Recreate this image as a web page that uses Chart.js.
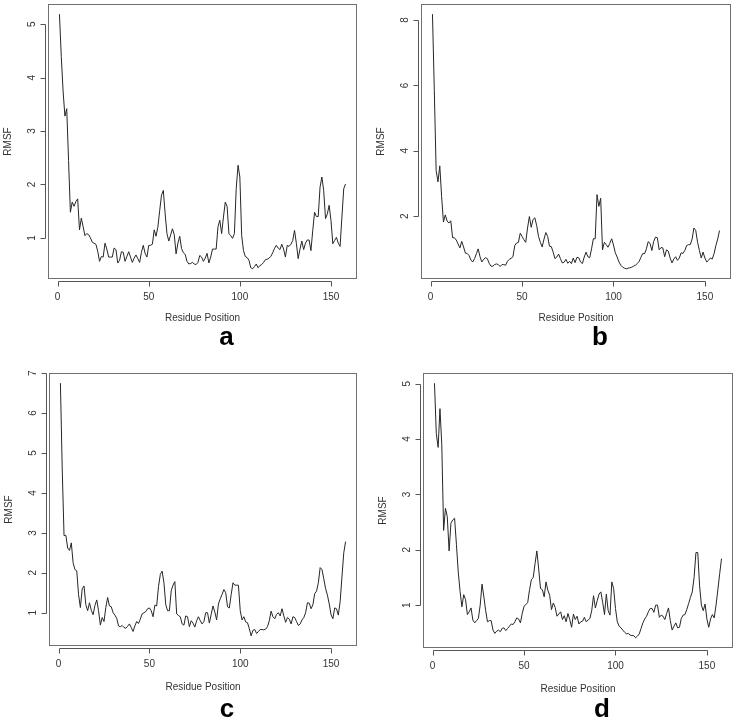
<!DOCTYPE html>
<html>
<head>
<meta charset="utf-8">
<script src="https://cdn.jsdelivr.net/npm/chart.js@4.4.0/dist/chart.umd.min.js"></script>
<style>
  body { margin: 0; background: #fff; }
  #wrap { position: relative; width: 739px; height: 722px; }
  canvas { position: absolute; }
</style>
</head>
<body>
<div id="wrap">
  <canvas id="pa" width="370" height="361" style="left:0;top:0"></canvas>
  <canvas id="pb" width="369" height="361" style="left:370px;top:0"></canvas>
  <canvas id="pc" width="370" height="361" style="left:0;top:361px"></canvas>
  <canvas id="pd" width="369" height="361" style="left:370px;top:361px"></canvas>
</div>
<script>
// residue numbers 1..158
const residues = []
for (let i = 1; i <= 158; i++) residues.push(i)

const rmsfA = [
  5.19, 4.4, 3.75, 3.28, 3.42, 2.45, 1.48, 1.67, 1.59, 1.68,
  1.73, 1.15, 1.37, 1.21, 1.04, 1.08, 1.06, 1.0, 0.92, 0.9,
  0.88, 0.75, 0.56, 0.65, 0.64, 0.9, 0.79, 0.64, 0.64, 0.64,
  0.81, 0.78, 0.53, 0.58, 0.74, 0.73, 0.56, 0.65, 0.74, 0.64,
  0.54, 0.62, 0.68, 0.61, 0.54, 0.73, 0.86, 0.71, 0.64, 0.86,
  0.86, 0.88, 1.15, 1.03, 1.2, 1.51, 1.8, 1.89, 1.45, 1.08,
  0.94, 1.05, 1.17, 1.06, 0.7, 0.9, 1.03, 0.8, 0.72, 0.69,
  0.56, 0.51, 0.52, 0.54, 0.51, 0.5, 0.54, 0.67, 0.64, 0.56,
  0.62, 0.71, 0.53, 0.64, 0.79, 0.79, 0.79, 1.21, 1.33, 1.08,
  1.39, 1.67, 1.59, 1.08, 1.04, 0.99, 1.08, 1.92, 2.36, 2.14,
  1.04, 0.76, 0.65, 0.63, 0.58, 0.44, 0.42, 0.46, 0.51, 0.44,
  0.48, 0.5, 0.54, 0.59, 0.6, 0.62, 0.65, 0.72, 0.8, 0.86,
  0.81, 0.78, 0.88, 0.79, 0.64, 0.86, 0.84, 0.88, 0.95, 1.14,
  0.9, 0.61, 0.79, 0.94, 0.78, 0.9, 0.96, 0.96, 0.76, 1.14,
  1.48, 1.4, 1.4, 1.95, 2.14, 1.89, 1.36, 1.45, 1.61, 1.33,
  0.89, 0.95, 1.01, 0.9, 0.84, 1.39, 1.92, 2.01
]
const rmsfB = [
  8.18, 5.85, 3.4, 3.05, 3.54, 2.6, 1.82, 2.04, 1.85, 1.79,
  1.86, 1.34, 1.34, 1.27, 1.15, 1.03, 1.23, 1.06, 0.87, 0.86,
  0.8, 0.66, 0.6, 0.7, 0.85, 1.0, 0.76, 0.6, 0.68, 0.73,
  0.7, 0.56, 0.47, 0.47, 0.52, 0.54, 0.52, 0.46, 0.52, 0.52,
  0.5, 0.62, 0.68, 0.71, 0.76, 1.1, 1.18, 1.2, 1.48, 1.38,
  1.28, 1.2, 1.64, 1.99, 1.66, 1.9, 1.95, 1.71, 1.38, 1.2,
  1.06, 1.3, 1.5, 1.38, 1.08, 1.07, 0.9, 0.7, 0.75, 0.84,
  0.7, 0.57, 0.59, 0.68, 0.56, 0.62, 0.55, 0.72, 0.58, 0.74,
  0.73, 0.6, 0.55, 0.75, 0.9, 0.76, 0.73, 1.0, 1.31, 1.31,
  2.66, 2.3, 2.55, 0.97, 1.2, 1.13, 1.05, 1.17, 1.31, 1.12,
  0.88, 0.75, 0.6, 0.5, 0.44, 0.41, 0.39, 0.41, 0.42, 0.44,
  0.47, 0.5, 0.55, 0.61, 0.74, 0.86, 0.85, 1.0, 1.22, 1.17,
  0.95, 1.23, 1.36, 1.34, 0.97, 1.04, 1.03, 0.76, 0.97, 0.93,
  0.72, 0.57, 0.69, 0.76, 0.65, 0.72, 0.88, 0.86, 0.95, 1.1,
  1.13, 1.13, 1.3, 1.64, 1.56, 1.2, 0.95, 0.72, 0.9, 0.72,
  0.6, 0.65, 0.72, 0.69, 0.85, 1.1, 1.3, 1.56
]
const rmsfC = [
  6.75, 4.6, 2.93, 2.94, 2.62, 2.56, 2.75, 2.25, 2.08, 2.05,
  1.45, 1.13, 1.6, 1.67, 1.2, 1.05, 1.25, 1.06, 0.95, 1.18,
  1.32, 1.05, 0.69, 0.88, 0.78, 1.13, 1.38, 1.17, 1.15, 1.0,
  0.94, 0.86, 0.67, 0.65, 0.68, 0.63, 0.61, 0.66, 0.72, 0.63,
  0.53, 0.67, 0.78, 0.73, 0.84, 0.97, 1.0, 1.03, 1.1, 1.12,
  1.05, 0.9, 1.19, 1.17, 1.65, 1.96, 2.04, 1.75, 1.2, 1.05,
  1.05, 1.55, 1.69, 1.78, 0.97, 0.93, 0.9, 0.72, 0.69, 0.92,
  0.9, 0.65, 0.8, 0.74, 0.64, 0.8, 0.9, 0.8, 0.72, 0.78,
  1.0, 1.0, 0.74, 0.96, 1.17, 1.02, 0.82, 1.22, 1.35, 1.46,
  1.58, 1.5, 1.15, 1.12, 1.45, 1.75, 1.69, 1.69, 1.69, 1.05,
  0.82, 0.9, 0.77, 0.75, 0.6, 0.42, 0.56, 0.58, 0.48, 0.53,
  0.58, 0.58, 0.57, 0.59, 0.65, 0.8, 1.04, 0.9, 0.85, 0.96,
  1.0, 0.92, 1.1, 0.92, 0.76, 0.88, 0.84, 0.72, 0.9, 0.88,
  0.78, 0.68, 0.72, 0.82, 0.88, 1.0, 1.25, 1.24, 1.1, 1.2,
  1.48, 1.54, 1.75, 2.13, 2.08, 1.85, 1.6, 1.44, 1.22, 0.95,
  0.85, 1.12, 1.1, 0.94, 1.28, 1.9, 2.5, 2.78
]
const rmsfD = [
  5.01, 4.1, 3.85, 4.55, 3.9, 2.35, 2.75, 2.6, 1.98, 2.48,
  2.54, 2.57, 2.1, 1.6, 1.25, 0.97, 1.19, 1.1, 0.83, 0.88,
  0.95, 0.73, 0.68, 0.72, 0.76, 1.0, 1.38, 1.15, 0.9, 0.7,
  0.72, 0.72, 0.55, 0.49, 0.53, 0.55, 0.52, 0.58, 0.59, 0.54,
  0.58, 0.62, 0.66, 0.65, 0.7, 0.77, 0.75, 0.68, 0.85, 0.98,
  1.01, 1.05, 1.28, 1.46, 1.5, 1.75, 1.98, 1.65, 1.3, 1.28,
  1.15, 1.42, 1.27, 1.18, 0.92, 1.04, 0.96, 0.8, 0.84, 0.88,
  0.74, 0.81, 0.7, 0.85, 0.74, 0.6, 0.84, 0.74, 0.8, 0.66,
  0.7, 0.71, 0.78, 0.7, 0.73, 0.76, 0.9, 1.17, 0.95, 1.08,
  1.2, 1.24, 1.05, 0.83, 1.2, 0.9, 0.82, 1.42, 1.3, 0.94,
  0.7, 0.62, 0.59, 0.55, 0.51, 0.48, 0.49, 0.46, 0.45, 0.45,
  0.41, 0.44, 0.48, 0.58, 0.68, 0.75, 0.8, 0.88, 0.94, 0.94,
  0.87, 1.0, 1.0, 0.78, 0.82, 0.8, 0.74, 0.85, 0.95, 0.72,
  0.55, 0.62, 0.68, 0.59, 0.6, 0.76, 0.82, 0.83, 0.92, 1.03,
  1.14, 1.24, 1.5, 1.95, 1.95, 1.35, 1.0, 0.9, 1.02, 0.75,
  0.6, 0.75, 0.83, 0.77, 1.0, 1.28, 1.57, 1.84
]

const xTicks = [0, 50, 100, 150]
const yTicksA = [1, 2, 3, 4, 5]
const yTicksB = [2, 4, 6, 8]
const yTicksC = [1, 2, 3, 4, 5, 6, 7]
const yTicksD = [1, 2, 3, 4, 5]
const xTitle = 'Residue Position'
const yTitle = 'RMSF'

const FONT = '"Liberation Sans", Arial, sans-serif'

// R-style axes, box, titles and panel letter
const rAxes = {
  id: 'rAxes',
  afterDraw (chart, args, opts) {
    const { ctx, chartArea: a, scales: { x, y } } = chart
    ctx.save()
    ctx.lineWidth = 1
    ctx.strokeStyle = '#707070'
    const L = Math.round(a.left) + 0.5, T = Math.round(a.top) + 0.5
    const R = Math.round(a.right) - 0.5, B = Math.round(a.bottom) - 0.5
    ctx.strokeRect(L, T, R - L, B - T)

    // x axis
    const xb = B + 3
    ctx.strokeStyle = '#555'
    ctx.beginPath()
    ctx.moveTo(Math.round(x.getPixelForValue(xTicks[0])) + 0.5, xb)
    ctx.lineTo(Math.round(x.getPixelForValue(xTicks[xTicks.length - 1])) + 0.5, xb)
    xTicks.forEach(t => {
      const px = Math.round(x.getPixelForValue(t)) + 0.5
      ctx.moveTo(px, xb)
      ctx.lineTo(px, xb + 5)
    })
    // y axis
    const yl = L - 3
    const yt = opts.yTicks
    ctx.moveTo(yl, Math.round(y.getPixelForValue(yt[0])) + 0.5)
    ctx.lineTo(yl, Math.round(y.getPixelForValue(yt[yt.length - 1])) + 0.5)
    yt.forEach(t => {
      const py = Math.round(y.getPixelForValue(t)) + 0.5
      ctx.moveTo(yl, py)
      ctx.lineTo(yl - 5, py)
    })
    ctx.stroke()

    ctx.fillStyle = '#333'
    ctx.font = '10px ' + FONT
    ctx.textAlign = 'center'
    ctx.textBaseline = 'middle'
    xTicks.forEach(t => ctx.fillText(String(t), x.getPixelForValue(t), a.bottom + 18))
    ctx.fillText(xTitle, (a.left + a.right) / 2, a.bottom + opts.titleGap)
    yt.forEach(t => {
      ctx.save()
      ctx.translate(a.left - 16, y.getPixelForValue(t))
      ctx.rotate(-Math.PI / 2)
      ctx.fillText(String(t), 0, 0)
      ctx.restore()
    })
    ctx.save()
    ctx.translate(a.left - 40, (a.top + a.bottom) / 2)
    ctx.rotate(-Math.PI / 2)
    ctx.fillText(yTitle, 0, 0)
    ctx.restore()

    ctx.fillStyle = '#000'
    ctx.font = 'bold 26px ' + FONT
    ctx.textBaseline = 'alphabetic'
    ctx.fillText(opts.letter, (a.left + a.right) / 2 + 24, a.bottom + opts.letterGap)
    ctx.restore()
  }
}

function makePanel (id, values, yTicks, letter, pad, titleGap, letterGap) {
  const lo = Math.min(...values), hi = Math.max(...values)
  const yr = (hi - lo) * 0.04
  const xr = (residues[residues.length - 1] - residues[0]) * 0.04
  new Chart(document.getElementById(id), {
    type: 'line',
    data: {
      datasets: [{
        data: residues.map((r, i) => ({ x: r, y: values[i] })),
        borderColor: '#262626',
        borderWidth: 1,
        pointRadius: 0,
        tension: 0,
        fill: false
      }]
    },
    options: {
      responsive: false,
      animation: false,
      events: [],
      layout: { padding: pad },
      plugins: {
        legend: { display: false },
        tooltip: { enabled: false },
        rAxes: { yTicks, letter, titleGap, letterGap }
      },
      scales: {
        x: { type: 'linear', display: false, min: residues[0] - xr, max: residues[residues.length - 1] + xr },
        y: { type: 'linear', display: false, min: lo - yr, max: hi + yr }
      }
    },
    plugins: [rAxes]
  })
}

makePanel('pa', rmsfA, yTicksA, 'a', { left: 48, top: 4, right: 13, bottom: 82 }, 39, 66)
makePanel('pb', rmsfB, yTicksB, 'b', { left: 51, top: 4, right: 8, bottom: 82 }, 39, 66)
makePanel('pc', rmsfC, yTicksC, 'c', { left: 49, top: 12, right: 13, bottom: 76 }, 41, 71)
makePanel('pd', rmsfD, yTicksD, 'd', { left: 53, top: 12, right: 6, bottom: 74 }, 41, 69)
</script>
</body>
</html>
